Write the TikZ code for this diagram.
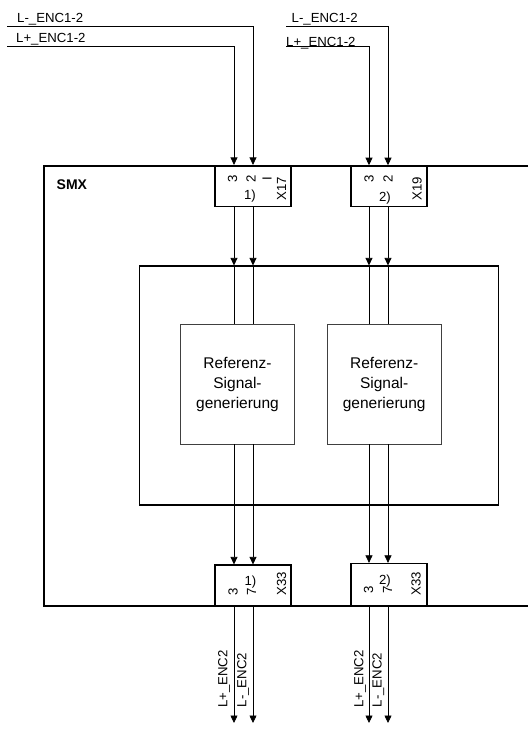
\documentclass[tikz,border=0pt]{standalone}
\usepackage{fontspec}
\setmainfont{Liberation Sans}
\usepackage{tikz}
\usetikzlibrary{arrows.meta, positioning}

\begin{document}
\begin{tikzpicture}[
    x=1pt, y=-1pt,
    frame/.style={draw, line width=1.2pt},
    plugbox/.style={draw, rectangle, line width=1.2pt, minimum width=76pt,
      minimum height=41pt, inner sep=0pt},
    refbox/.style={draw=black!75, rectangle, line width=0.7pt, minimum width=113.5pt,
      minimum height=120pt, align=center, font=\fontsize{15.5}{20}\selectfont},
    lbl/.style={inner sep=0pt, font=\fontsize{13.2}{15}\selectfont},
    pin/.style={lbl, rotate=90},
    wire/.style={line width=0.7pt},
    arrow/.style={wire, -{Triangle[length=7.5pt, width=7pt]}}
]
\useasboundingbox (0,0) rectangle (528,729);

% SMX frame, open on the right
\draw[frame] (528,166) -- (44,166) -- (44,606) -- (528,606);
\node[lbl, font=\fontsize{14}{16}\selectfont\bfseries, anchor=west] (smx) at (56.5,185) {SMX};

\node[frame, minimum width=359pt, minimum height=239pt] (inner) at (318.7,385.5) {};
\node[refbox] (refA) at (237.5,384) {Referenz-\\Signal-\\generierung};
\node[refbox, right=32.5pt of refA] (refB) {Referenz-\\Signal-\\generierung};

% plugs
\node[plugbox] (x17) at (253,186) {};
\node[plugbox] (x19) at (389,186.3) {};
\node[plugbox] (x33a) at (253,585.5) {};
\node[plugbox, minimum height=42.5pt] (x33b) at (389,584.7) {};

\node[pin] (p17a) at (232.5,179) {3};
\node[pin] (p17b) at (251,179) {2};
\node[pin] (p17c) at (267,179) {I};
\node[pin] (n17) at (281.5,188.5) {X17};
\node[lbl] (m17) at (250,196) {1)};

\node[pin] (p19a) at (369,179) {3};
\node[pin] (p19b) at (388,179) {2};
\node[pin] (n19) at (417,189) {X19};
\node[lbl] (m19) at (385,198) {2)};

\node[pin] (p33a) at (233,592) {3};
\node[pin] (p33b) at (251.7,591.7) {7};
\node[pin] (n33a) at (281.7,584) {X33};
\node[lbl] (m33a) at (250.5,582) {1)};

\node[pin] (p33c) at (368.7,590) {3};
\node[pin] (p33d) at (387.7,590) {7};
\node[pin] (n33b) at (416,583.5) {X33};
\node[lbl] (m33b) at (385,581) {2)};

% incoming lines
\coordinate (lmA) at (7,26);
\coordinate (lpA) at (7,46);
\coordinate (lmB) at (286,26.5);
\coordinate (lpB) at (286,46.5);
\node[lbl, anchor=base west] (tlmA) at (17,22) {L-\_ENC1-2};
\node[lbl, anchor=base west] (tlpA) at (16,42.5) {L+\_ENC1-2};
\node[lbl, anchor=base west] (tlmB) at (291.5,22.5) {L-\_ENC1-2};
\node[lbl, anchor=base west] (tlpB) at (286,46) {L+\_ENC1-2};

% wire columns
\coordinate (cA1) at (234,0);
\coordinate (cA2) at (253,0);
\coordinate (cB1) at (369,0);
\coordinate (cB2) at (388,0);
\coordinate (oA1) at (234,723);
\coordinate (oA2) at (253,723);
\coordinate (oB1) at (369,723);
\coordinate (oB2) at (388,723);

\draw[arrow] (lpA) -| (x17.north -| cA1);
\draw[arrow] (lmA) -| (x17.north -| cA2);
\draw[arrow] (lpB) -| (x19.north -| cB1);
\draw[arrow] (lmB) -| (x19.north -| cB2);

\draw[arrow] (x17.south -| cA1) -- (inner.north -| cA1);
\draw[wire] (inner.north -| cA1) -- (refA.north -| cA1) (refA.south -| cA1) -- (inner.south -| cA1);
\draw[arrow] (inner.south -| cA1) -- (x33a.north -| cA1);
\draw[arrow] (x33a.south -| cA1) -- (oA1);

\draw[arrow] (x17.south -| cA2) -- (inner.north -| cA2);
\draw[wire] (inner.north -| cA2) -- (refA.north -| cA2) (refA.south -| cA2) -- (inner.south -| cA2);
\draw[arrow] (inner.south -| cA2) -- (x33a.north -| cA2);
\draw[arrow] (x33a.south -| cA2) -- (oA2);

\draw[arrow] (x19.south -| cB1) -- (inner.north -| cB1);
\draw[wire] (inner.north -| cB1) -- (refB.north -| cB1) (refB.south -| cB1) -- (inner.south -| cB1);
\draw[arrow] (inner.south -| cB1) -- (x33b.north -| cB1);
\draw[arrow] (x33b.south -| cB1) -- (oB1);

\draw[arrow] (x19.south -| cB2) -- (inner.north -| cB2);
\draw[wire] (inner.north -| cB2) -- (refB.north -| cB2) (refB.south -| cB2) -- (inner.south -| cB2);
\draw[arrow] (inner.south -| cB2) -- (x33b.north -| cB2);
\draw[arrow] (x33b.south -| cB2) -- (oB2);

% outgoing labels
\node[pin] (bpA) at (224,679) {L+\_ENC2};
\node[pin] (bmA) at (243,680) {L-\_ENC2};
\node[pin] (bpB) at (360,679) {L+\_ENC2};
\node[pin] (bmB) at (378.3,680) {L-\_ENC2};
\end{tikzpicture}
\end{document}
